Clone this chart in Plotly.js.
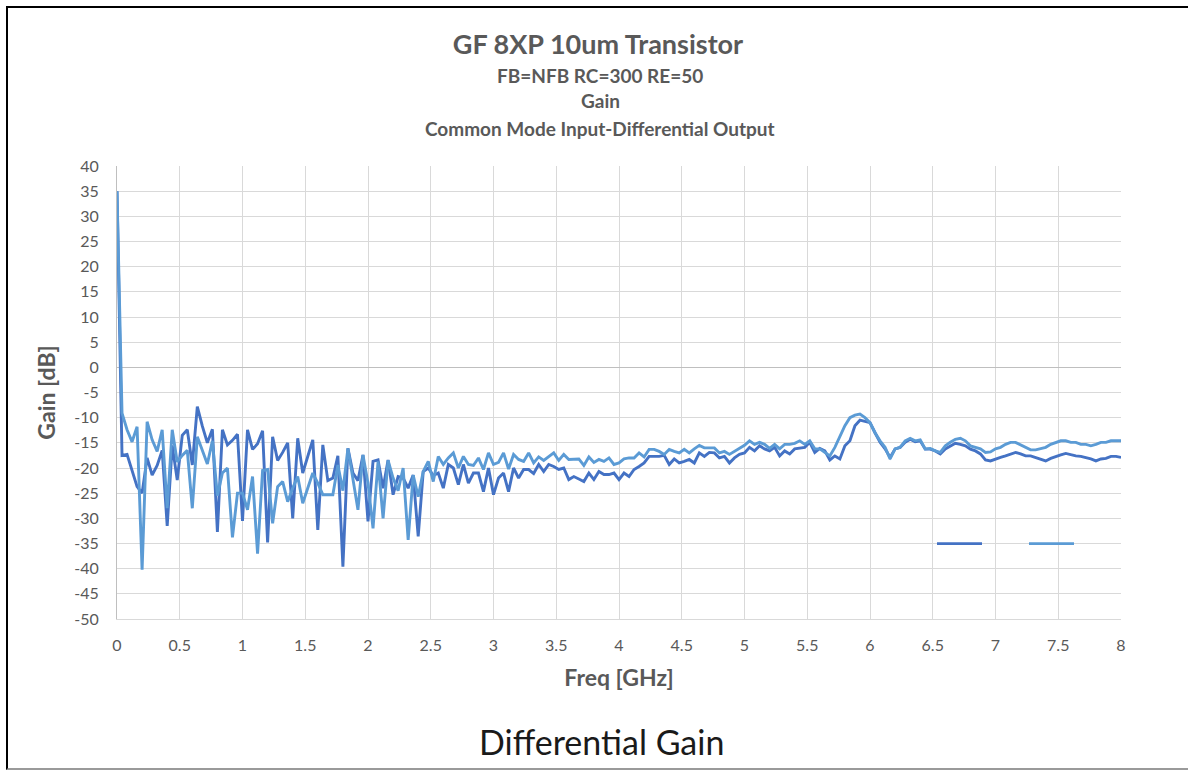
<!DOCTYPE html>
<html>
<head>
<meta charset="utf-8">
<script src="https://cdn.plot.ly/plotly-3.0.1.min.js"></script>
<style>
  html, body { margin: 0; padding: 0; background: #fff; }
  #wrap { position: relative; width: 1188px; height: 771px; overflow: hidden; }
  #chart { position: absolute; left: 0; top: 0; width: 1188px; height: 771px; }
  #frame { position: absolute; left: 6px; top: 6px; width: 1190px; height: 760px;
           border-left: 2px solid #000; border-top: 2px solid #000; border-bottom: 2px solid #9a9a9a;
           pointer-events: none; }
</style>
</head>
<body>
<div id="wrap"><div id="chart"></div><div id="frame"></div></div>
<script>
// Frequency sweep: start 0 GHz, step 0.04 GHz (201 points)
const freqStart = 0;
const freqStep = 0.04;

// Series 1 (dark blue) gain [dB]
const gainSeries1 = [
  35, -17.5, -17.3, -20.5, -23.7, -25, -18, -21.4, -19.5, -16.5,
  -31.5, -15.5, -22.4, -13.5, -12.4, -19.4, -7.8, -11.7, -15, -12.3,
  -32.7, -12.4, -15.4, -14.5, -13.3, -30.5, -12.4, -16.3, -15.2, -12.6,
  -34.8, -13.8, -18.5, -16.9, -15, -30, -14.1, -21, -17.7, -14.4,
  -32.3, -15.4, -22.5, -22, -17.6, -39.6, -16.1, -21, -22.5, -17.4,
  -30.6, -18.7, -18.4, -24, -18.4, -25.3, -21.7, -22, -24, -21.4,
  -33.6, -20.7, -20, -21.5, -21, -24, -19.3, -20, -23.3, -19.3,
  -23, -21, -21, -24.7, -20, -25.3, -22, -21, -24.7, -20,
  -22, -20.3, -20.3, -21.1, -19.3, -20.7, -19.3, -19.7, -20.3, -20,
  -22.3, -21.7, -22.2, -22.7, -21, -22.3, -20.7, -21.3, -21.3, -21,
  -22.3, -21, -21.7, -20.3, -19.7, -19, -17.7, -17.7, -17.7, -17.5,
  -19.3, -18.2, -19, -18.7, -18.3, -19, -17, -17.7, -16.9, -17,
  -18, -17.7, -19, -18, -17.3, -17, -15.9, -16.6, -15.6, -16.2,
  -16.6, -15.9, -17.6, -16.6, -17.2, -16.2, -16.1, -15.9, -14.9, -16.9,
  -16.1, -16.6, -18.4, -17.6, -18.2, -15.6, -14.6, -11.6, -10.5, -10.7,
  -11, -13, -14.9, -16.2, -17.9, -16.2, -15.9, -14.9, -14.3, -14.8,
  -14.6, -16.25, -16.25, -16.6, -17.2, -16.2, -15.6, -15.1, -15.3, -15.6,
  -16.25, -16.6, -17.2, -18.4, -18.6, -18.2, -17.9, -17.6, -17.2, -16.9,
  -17.2, -17.6, -17.6, -17.9, -18.2, -18.6, -18.1, -17.7, -17.4, -17.1,
  -17.4, -17.6, -17.7, -17.9, -18.2, -18.6, -18.2, -18.1, -17.7, -17.7, -17.9
];

// Series 2 (light blue) gain [dB]
const gainSeries2 = [
  35, -9.1, -12.4, -14.8, -11.8, -40.2, -10.8, -14.4, -16.7, -12.4,
  -28, -12.4, -18.8, -17.5, -16.5, -28, -13.8, -16.5, -19.2, -14.6,
  -25.5, -21, -20, -33.8, -25, -25, -28.3, -21.7, -37, -20.5,
  -20.3, -31, -23.7, -22.7, -26.7, -24, -21.7, -27, -24, -21,
  -23, -25.3, -25.3, -25.3, -19.4, -24.5, -16.1, -22, -28.3, -17.4,
  -23, -32, -18.7, -30, -18.5, -22, -24.5, -20, -34.3, -21.4,
  -25.7, -20.7, -18.7, -22.7, -17.7, -19.3, -18, -17, -20, -17.7,
  -19.3, -19.5, -18, -20.3, -17, -19.3, -18.9, -17, -20.2, -17.3,
  -18.3, -18.7, -17, -19, -17.8, -18.5, -17.7, -17, -18.5, -17.3,
  -18.3, -18.3, -18.2, -19.5, -17.8, -18.9, -18.3, -18.7, -18, -19.3,
  -19, -18.2, -18, -18, -17, -17.8, -16.3, -16.3, -16.7, -17.3,
  -16.3, -16.7, -17, -16.3, -17, -16.2, -15.5, -16, -16, -16,
  -17, -16.7, -17.3, -16.7, -16, -15.5, -14.6, -15.3, -14.9, -15.3,
  -16.1, -15.3, -16.2, -15.3, -15.3, -15.1, -14.6, -15.3, -14.6, -16.2,
  -16.2, -16.9, -17.6, -15.9, -13.9, -11.6, -10, -9.5, -9.3, -10,
  -11, -13, -14.6, -15.9, -18.2, -16.2, -15.9, -14.6, -14.1, -14.6,
  -14.4, -16.2, -16.1, -16.6, -16.9, -15.6, -14.9, -14.3, -14.1, -14.6,
  -15.6, -15.9, -16.2, -16.9, -16.8, -16.2, -15.9, -15.3, -14.9, -14.9,
  -15.4, -15.9, -16.4, -16.4, -16.2, -15.9, -15.3, -14.9, -14.6, -14.6,
  -14.9, -14.9, -15.3, -15.3, -15.6, -15.3, -14.9, -14.9, -14.6, -14.6, -14.6
];

const seriesNames = ['', ''];
const seriesColors = ['#4472C4', '#5B9BD5'];

const yTickVals = [40, 35, 30, 25, 20, 15, 10, 5, 0, -5, -10, -15, -20, -25, -30, -35, -40, -45, -50];
const yTickText = ['40', '35', '30', '25', '20', '15', '10', '5', '0', '-5', '-10', '-15', '-20', '-25', '-30', '-35', '-40', '-45', '-50'];
const xTickVals = [0, 0.5, 1, 1.5, 2, 2.5, 3, 3.5, 4, 4.5, 5, 5.5, 6, 6.5, 7, 7.5, 8];
const xTickText = ['0', '0.5', '1', '1.5', '2', '2.5', '3', '3.5', '4', '4.5', '5', '5.5', '6', '6.5', '7', '7.5', '8'];

const titleMain = 'GF 8XP 10um Transistor';
const subTitles = ['FB=NFB RC=300 RE=50', 'Gain', 'Common Mode Input-Differential Output'];
const xTitle = 'Freq [GHz]';
const yTitle = 'Gain [dB]';
const caption = 'Differential Gain';

const FONT = 'Lato, "Liberation Sans", Arial, sans-serif';
const GRAY = '#595959';

const traces = [gainSeries1, gainSeries2].map((g, i) => ({
  type: 'scatter',
  mode: 'lines',
  x0: freqStart,
  dx: freqStep,
  y: g,
  name: seriesNames[i],
  line: { color: seriesColors[i], width: 2.9 },
  hoverinfo: 'x+y'
}));

const W = 1188, H = 771;
const mL = 117, mR = 67, mT = 166, mB = 152;
const plotH = H - mT - mB;
function paperY(px) { return (H - mB - px) / plotH; }

const annotations = subTitles.map((t, i) => ({
  text: '<b>' + t + '</b>',
  xref: 'paper', yref: 'paper',
  x: (600 - mL) / (W - mL - mR), y: paperY([75, 101, 128][i]),
  xanchor: 'center', yanchor: 'middle', showarrow: false,
  font: { family: FONT, size: 19, color: GRAY }
}));
annotations.push({
  text: caption,
  xref: 'paper', yref: 'paper',
  x: (601 - mL) / (W - mL - mR), y: paperY(741),
  xanchor: 'center', yanchor: 'middle', showarrow: false,
  font: { family: FONT, size: 34, color: '#1a1a1a' }
});

const layout = {
  width: W, height: H,
  margin: { l: mL, r: mR, t: mT, b: mB, autoexpand: false },
  paper_bgcolor: '#fff', plot_bgcolor: '#fff',
  font: { family: FONT, color: GRAY },
  title: {
    text: '<b>' + titleMain + '</b>',
    x: 598 / W, xanchor: 'center',
    y: 1 - 45 / H, yanchor: 'middle',
    font: { family: FONT, size: 27, color: GRAY }
  },
  showlegend: true,
  legend: {
    orientation: 'h',
    x: (932 - mL) / (W - mL - mR), xanchor: 'left',
    y: paperY(544), yanchor: 'middle',
    bgcolor: 'rgba(0,0,0,0)',
    itemwidth: 45,
    entrywidth: 32,
    entrywidthmode: 'pixels',
    font: { family: FONT, size: 14, color: GRAY },
    traceorder: 'normal'
  },
  xaxis: {
    range: [0, 8],
    tickvals: xTickVals, ticktext: xTickText,
    showgrid: true, gridcolor: '#D9D9D9', gridwidth: 1,
    zeroline: false,
    showline: true, linecolor: '#D9D9D9', linewidth: 1, mirror: false,
    ticks: 'outside', ticklen: 12, tickcolor: 'rgba(0,0,0,0)',
    tickfont: { family: FONT, size: 16, color: GRAY },
    title: { text: '<b>' + xTitle + '</b>', font: { family: FONT, size: 23, color: GRAY }, standoff: 16 },
    fixedrange: true
  },
  yaxis: {
    range: [-50, 40],
    tickvals: yTickVals, ticktext: yTickText,
    showgrid: true, gridcolor: '#D9D9D9', gridwidth: 1,
    zeroline: true, zerolinecolor: '#BFBFBF', zerolinewidth: 1,
    showline: true, linecolor: '#BFBFBF', linewidth: 1,
    ticks: 'outside', ticklen: 14, tickcolor: 'rgba(0,0,0,0)',
    tickfont: { family: FONT, size: 16, color: GRAY },
    title: { text: '<b>' + yTitle + '</b>', font: { family: FONT, size: 23, color: GRAY }, standoff: 12 },
    fixedrange: true
  },
  annotations: annotations
};

Plotly.newPlot('chart', traces, layout, { displayModeBar: false, staticPlot: true });
</script>
</body>
</html>
